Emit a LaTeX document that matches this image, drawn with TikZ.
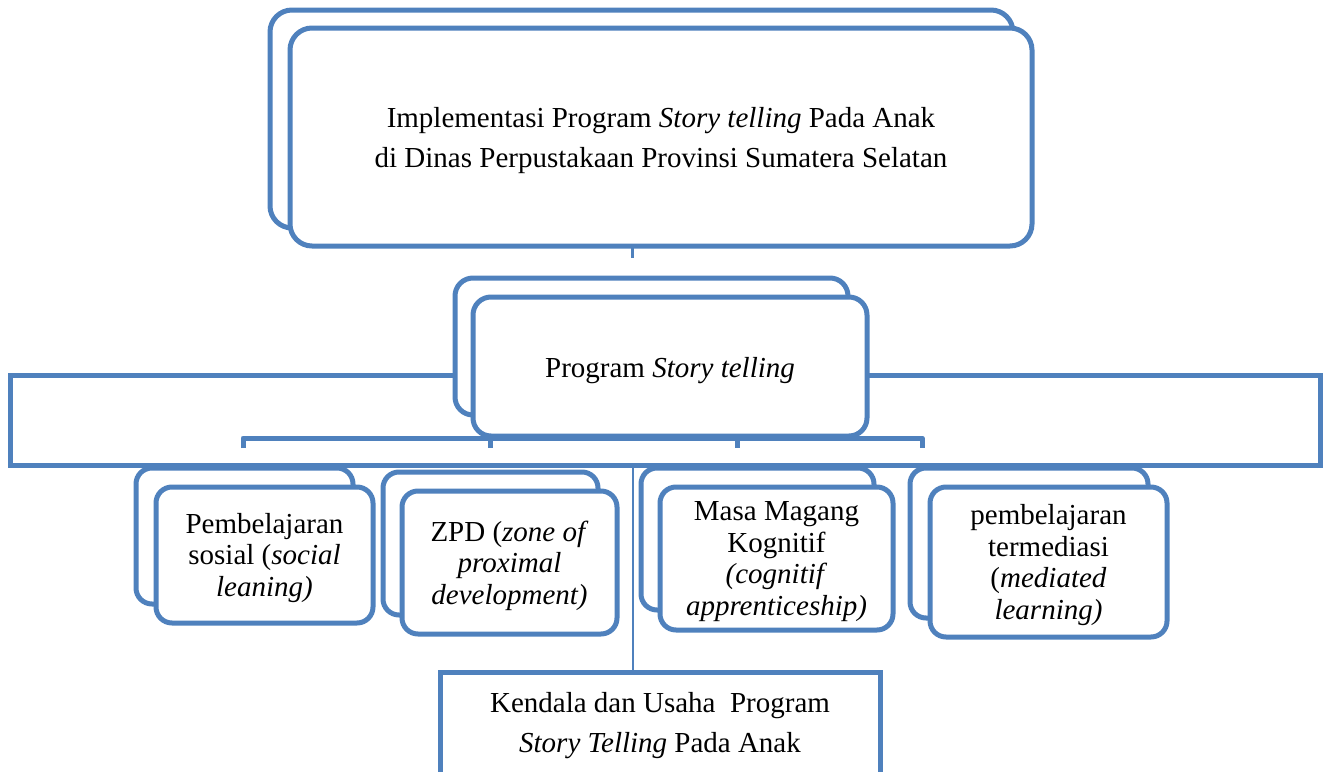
\documentclass[tikz,border=0pt]{standalone}
\usepackage{fontspec}
\setmainfont{Liberation Serif}
\definecolor{blu}{RGB}{79,129,189}
\begin{document}
\begin{tikzpicture}[x=1pt,y=-1pt,
  rbox/.style={draw=blu, line width=5pt, fill=white, rounded corners=16pt, inner sep=0pt, outer sep=0pt},
  sbox/.style={draw=blu, line width=5pt, fill=white, inner sep=0pt, outer sep=0pt},
  conn/.style={draw=blu, line width=5pt, line join=round},
  thinline/.style={draw=blu, line width=2pt},
  txt/.style={font=\fontsize{29}{31.5}\selectfont, align=center, inner sep=0pt},
  txtwide/.style={font=\fontsize{29}{40}\selectfont, align=center, inner sep=0pt}]
\useasboundingbox (0,0) rectangle (1325,771);
\clip (0,0) rectangle (1325,771);

% wide background rectangle
\node[sbox, minimum width=1310pt, minimum height=90pt] (big) at (665,420) {};

% connector lines to children
\coordinate (c1) at (243,438);
\coordinate (c2) at (490,438);
\coordinate (c3) at (737,438);
\coordinate (c4) at (922,438);
\coordinate (d1) at (243,448);
\coordinate (d2) at (490,448);
\coordinate (d3) at (737,448);
\coordinate (d4) at (922,448);
\draw[conn] (d1) -- (c1) -- (c4) -- (d4);
\draw[conn] (c2) -- (d2);
\draw[conn] (c3) -- (d3);

% top box
\node[rbox, rounded corners=22pt, minimum width=743pt, minimum height=218pt] (topb) at (641.5,119) {};
\node[rbox, rounded corners=22pt, minimum width=742pt, minimum height=218pt] (top) at (661,137) {};
\node[txtwide, yshift=-4pt] (topt) at (top.center)
  {Implementasi Program \textit{Story telling} Pada Anak\\di Dinas Perpustakaan Provinsi Sumatera Selatan};
\coordinate (tick) at (632,258);
\draw[thinline, line width=3pt] (tick |- top.south) -- (tick);

% program box
\node[rbox, rounded corners=18pt, minimum width=393pt, minimum height=137pt] (progb) at (651.5,346.5) {};
\node[rbox, rounded corners=18pt, minimum width=394pt, minimum height=139pt] (prog) at (670,366.5) {};
\node[txt, yshift=-4pt] (progt) at (prog.center) {Program \textit{Story telling}};

% children
\node[rbox, minimum width=217pt, minimum height=136pt] (k1b) at (244.5,536) {};
\node[rbox, minimum width=217pt, minimum height=136pt] (k1) at (264.5,555) {};
\node[txt, yshift=-3pt] (k1t) at (k1.center)
  {Pembelajaran\\sosial (\textit{social}\\\textit{leaning)}};

\node[rbox, minimum width=215pt, minimum height=143pt] (k2b) at (490.5,543.5) {};
\node[rbox, minimum width=215pt, minimum height=143pt] (k2) at (509.5,562.5) {};
\node[txt, yshift=-3pt] (k2t) at (k2.center)
  {ZPD (\textit{zone of}\\\textit{proximal}\\\textit{development)}};

\node[rbox, minimum width=233pt, minimum height=142pt] (k3b) at (757.5,539) {};
\node[rbox, minimum width=233pt, minimum height=143pt] (k3) at (776.5,558.5) {};
\node[txt, yshift=-3pt] (k3t) at (k3.center)
  {Masa Magang\\Kognitif\\\textit{(cognitif}\\\textit{apprenticeship)}};

\node[rbox, minimum width=238pt, minimum height=150pt] (k4b) at (1029,543) {};
\node[rbox, minimum width=237pt, minimum height=150pt] (k4) at (1048.5,562) {};
\node[txt, yshift=-3pt] (k4t) at (k4.center)
  {pembelajaran\\termediasi\\(\textit{mediated}\\\textit{learning)}};

% bottom box
\node[sbox, minimum width=440pt, minimum height=108pt] (bot) at (660,726) {};
\node[txtwide] (bott) at (bot.center)
  {Kendala dan Usaha~~Program\\\textit{Story Telling} Pada Anak};
\coordinate (vt) at (633,465);
\draw[thinline] (vt) -- (vt |- bot.north);
\end{tikzpicture}
\end{document}
